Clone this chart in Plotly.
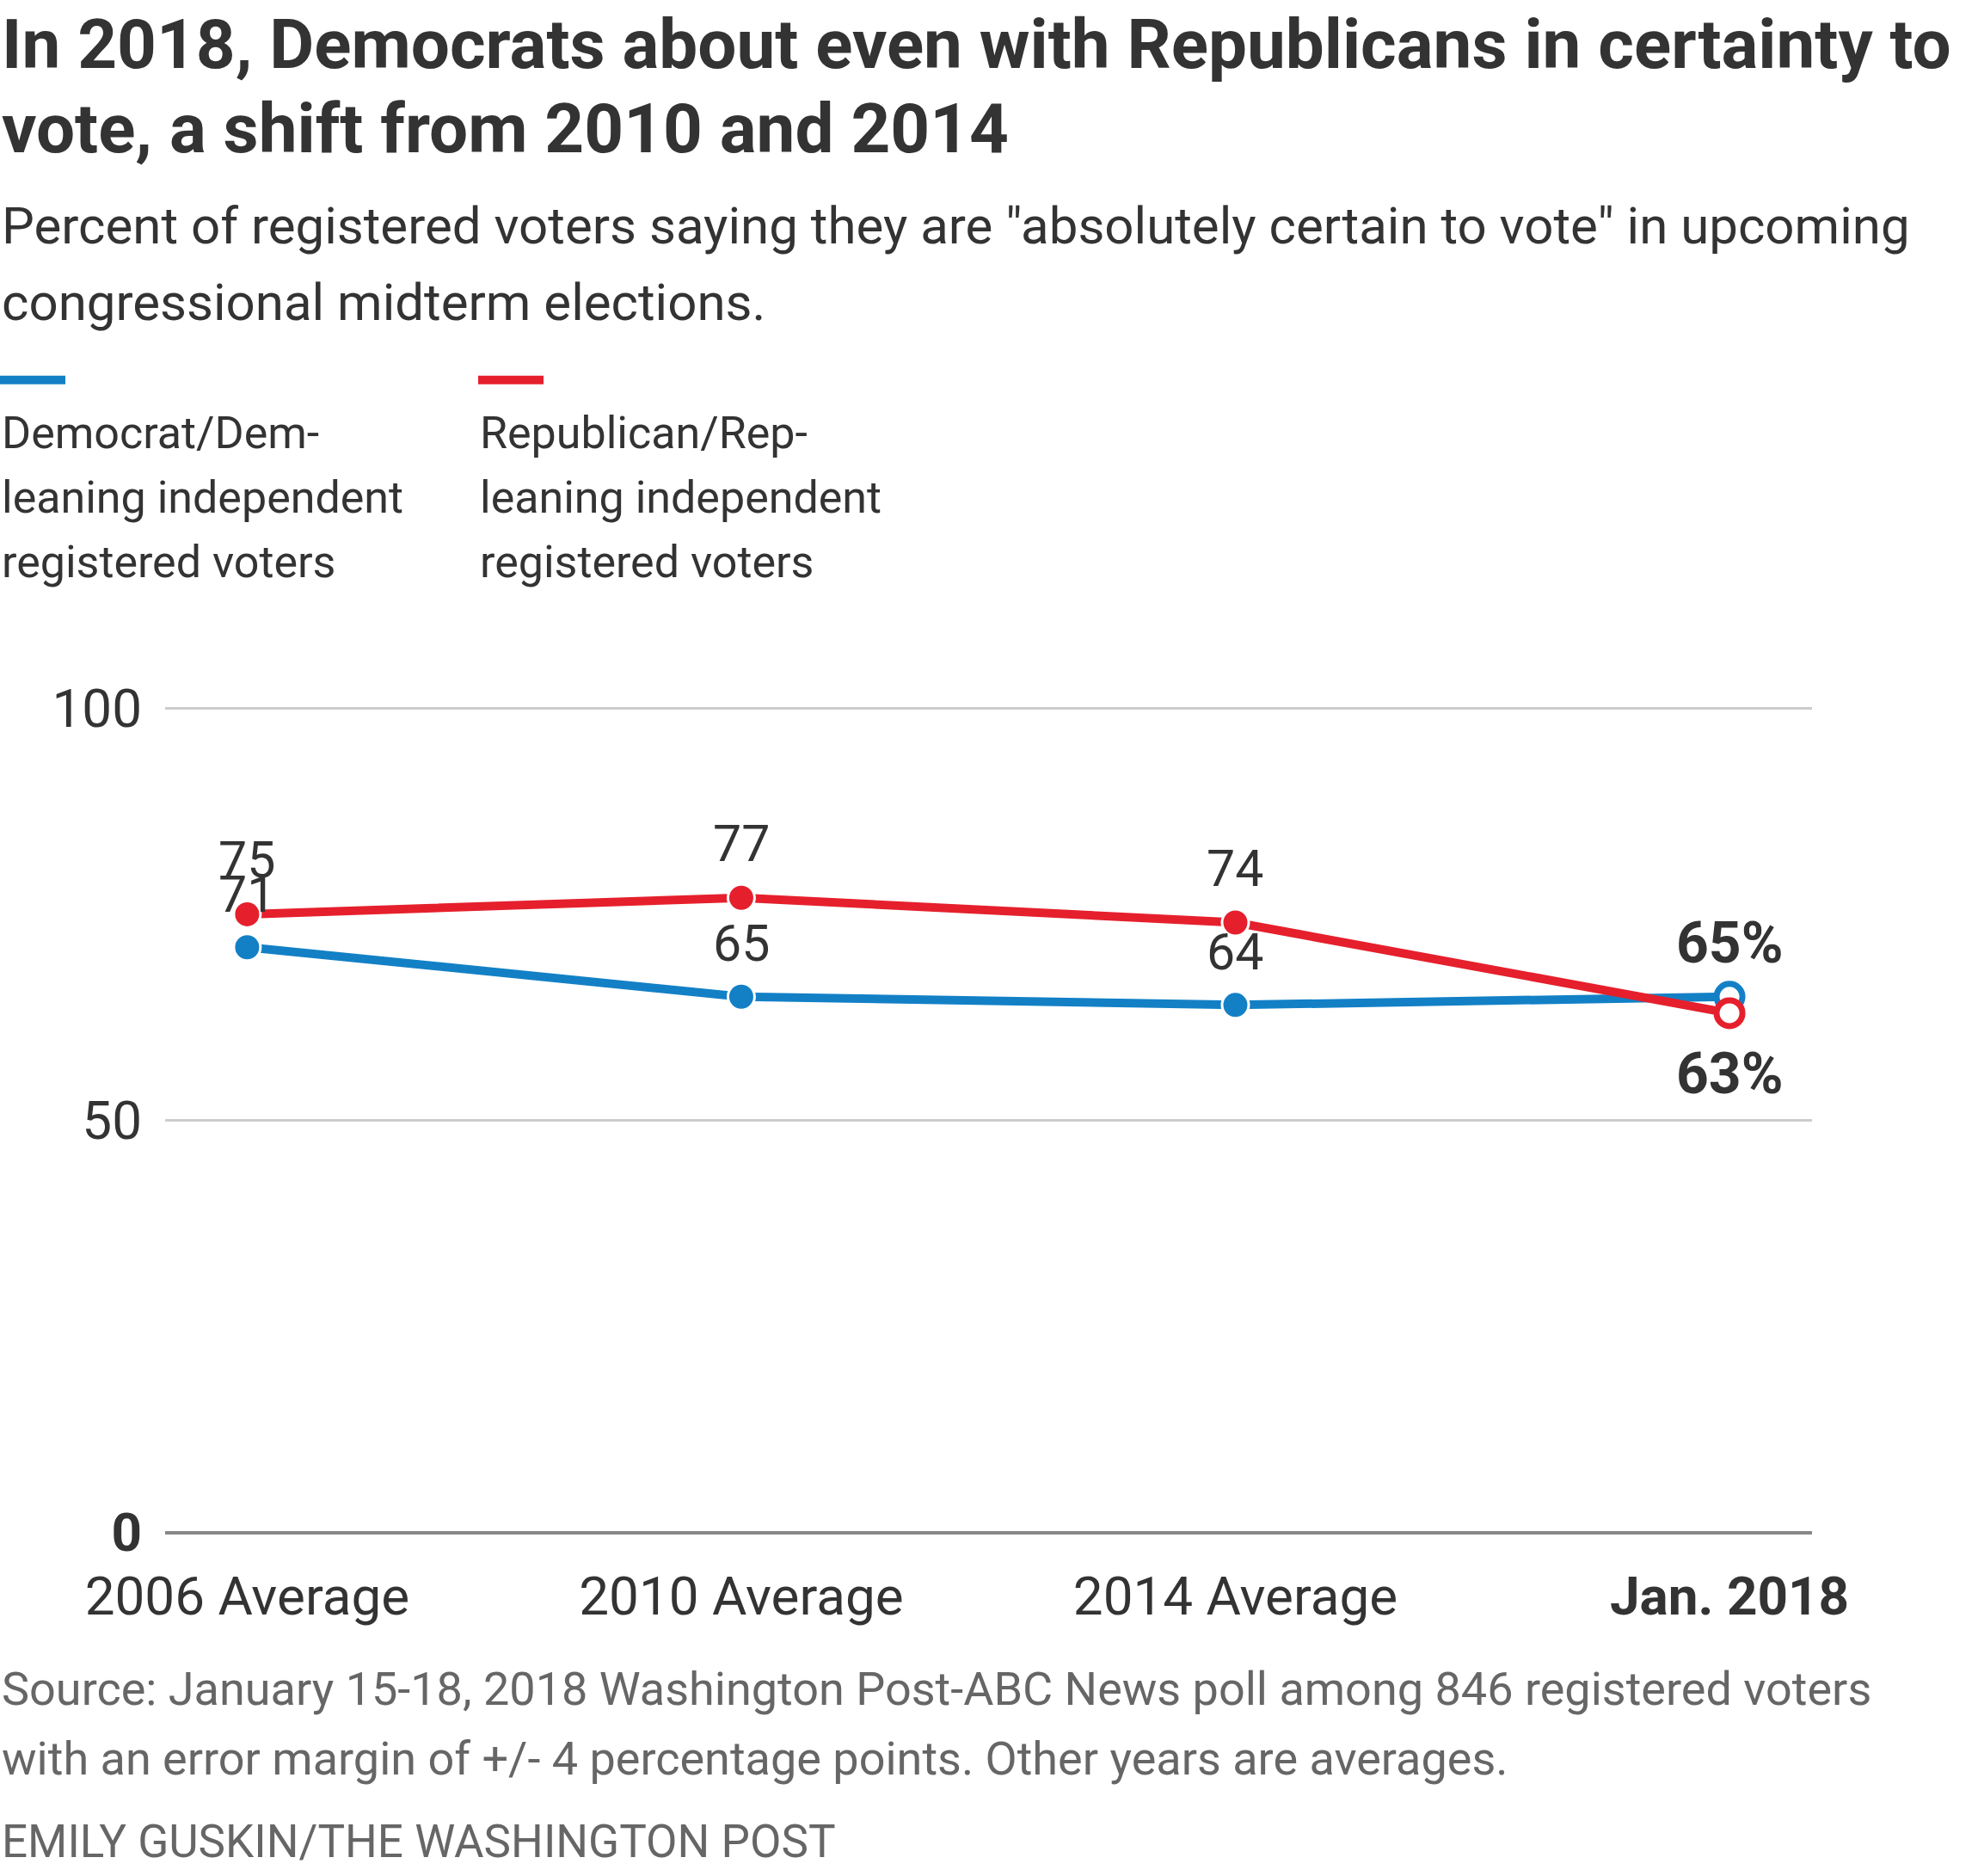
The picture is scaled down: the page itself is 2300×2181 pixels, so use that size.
import plotly.graph_objects as go

# ---------------- data ----------------
categories = ["2006 Average", "2010 Average", "2014 Average", "Jan. 2018"]
category_labels = ["2006 Average", "2010 Average", "2014 Average", "<b>Jan. 2018</b>"]
dem_values = [71, 65, 64, 65]
rep_values = [75, 77, 74, 63]
dem_labels = ["71", "65", "64", "<b>65%</b>"]
rep_labels = ["75", "77", "74", "<b>63%</b>"]
y_ticks = [0, 50, 100]
y_tick_labels = ["<b>0</b>", "50", "100"]

title_lines = [
    "In 2018, Democrats about even with Republicans in certainty to",
    "vote, a shift from 2010 and 2014",
]
subtitle_lines = [
    "Percent of registered voters saying they are \"absolutely certain to vote\" in upcoming",
    "congressional midterm elections.",
]
dem_legend = ["Democrat/Dem-", "leaning independent", "registered voters"]
rep_legend = ["Republican/Rep-", "leaning independent", "registered voters"]
source_lines = [
    "Source: January 15-18, 2018 Washington Post-ABC News poll among 846 registered voters",
    "with an error margin of +/- 4 percentage points. Other years are averages.",
]
credit = "EMILY GUSKIN/THE WASHINGTON POST"

# ---------------- style ----------------
W, H = 2300, 2181
L, R = 192, 2107          # plot area, px
Y100, Y0 = 823, 1782      # pixel rows of y=100 and y=0
Y_RANGE = [-1.5, 101.5]
UNIT = (Y0 - Y100) / 100.0
T = Y100 - (Y_RANGE[1] - 100) * UNIT
B = Y0 + (0 - Y_RANGE[0]) * UNIT
BLUE = "#1380c6"
RED = "#e5202c"
TEXT = "#333333"
GREY = "#666666"
FONT = "Roboto"

x_idx = list(range(len(categories)))


def px_note(text, x_px, y_px, size, color=TEXT, xanchor="left"):
    return dict(
        text=text, xref="paper", yref="paper",
        x=(x_px - L) / (R - L), y=(B - y_px) / (B - T),
        xanchor=xanchor, yanchor="middle", showarrow=False,
        font=dict(family=FONT, size=size, color=color),
    )


def series_markers(color, n):
    fill = [color] * (n - 1) + ["white"]
    line_col = ["white"] * (n - 1) + [color]
    line_w = [3] * (n - 1) + [7]
    size = [31] * (n - 1) + [30]
    return dict(color=fill, size=size, opacity=1,
                line=dict(color=line_col, width=line_w))


fig = go.Figure()
fig.add_trace(go.Scatter(
    x=x_idx, y=dem_values, mode="lines+markers",
    line=dict(color=BLUE, width=10),
    marker=series_markers(BLUE, len(dem_values)),
    name="Democrat", showlegend=False, cliponaxis=False,
))
fig.add_trace(go.Scatter(
    x=x_idx, y=rep_values, mode="lines+markers",
    line=dict(color=RED, width=10),
    marker=series_markers(RED, len(rep_values)),
    name="Republican", showlegend=False, cliponaxis=False,
))

annotations = []
# data labels
for i, (v, t) in enumerate(zip(rep_values, rep_labels)):
    last = i == len(rep_values) - 1
    annotations.append(dict(x=i, y=v, xref="x", yref="y", text=t, showarrow=False,
                            yshift=-71 if last else 63, yanchor="middle",
                            font=dict(family=FONT, size=66 if last else 59, color=TEXT)))
for i, (v, t) in enumerate(zip(dem_values, dem_labels)):
    last = i == len(dem_values) - 1
    annotations.append(dict(x=i, y=v, xref="x", yref="y", text=t, showarrow=False,
                            yshift=62, yanchor="middle",
                            font=dict(family=FONT, size=66 if last else 59, color=TEXT)))

# title / subtitle
annotations.append(px_note("<b>" + title_lines[0] + "</b>", 0, 51, 80))
annotations.append(px_note("<b>" + title_lines[1] + "</b>", 0, 149, 80))
annotations.append(px_note(subtitle_lines[0], 0, 262, 60))
annotations.append(px_note(subtitle_lines[1], 0, 351, 60))
# legend
for k, (a, b) in enumerate(zip(dem_legend, rep_legend)):
    yy = 503 + 75 * k
    annotations.append(px_note(a, 0, yy, 52))
    annotations.append(px_note(b, 556, yy, 52))
# footer
annotations.append(px_note(source_lines[0], 0, 1964, 54, GREY))
annotations.append(px_note(source_lines[1], 0, 2045, 54, GREY))
annotations.append(px_note(credit, 0, 2142, 53, GREY))


def px_shape(x0, x1, y, color):
    return dict(type="line", xref="paper", yref="paper",
                x0=(x0 - L) / (R - L), x1=(x1 - L) / (R - L),
                y0=(B - y) / (B - T), y1=(B - y) / (B - T),
                line=dict(color=color, width=10))


shapes = [px_shape(0, 76, 441, BLUE), px_shape(556, 632, 441, RED)]

fig.update_layout(
    width=W, height=H,
    margin=dict(l=L, r=W - R, t=T, b=H - B, pad=0),
    paper_bgcolor="white", plot_bgcolor="white",
    annotations=annotations, shapes=shapes,
    font=dict(family=FONT, color=TEXT),
    xaxis=dict(
        range=[-0.166, 3.167], tickmode="array", tickvals=x_idx, ticktext=category_labels,
        showgrid=False, zeroline=False, showline=False, ticks="",
        tickfont=dict(family=FONT, size=62, color=TEXT), ticklabelstandoff=18,
    ),
    yaxis=dict(
        range=Y_RANGE, tickmode="array", tickvals=y_ticks, ticktext=y_tick_labels,
        showgrid=True, gridcolor="#cccccc", gridwidth=3,
        zeroline=True, zerolinecolor="#888888", zerolinewidth=4,
        showline=False, ticks="",
        tickfont=dict(family=FONT, size=62, color=TEXT), ticklabelstandoff=26,
    ),
)

fig.write_html("out.html", config={"displayModeBar": False},
               post_script="document.body.style.margin='0';")
